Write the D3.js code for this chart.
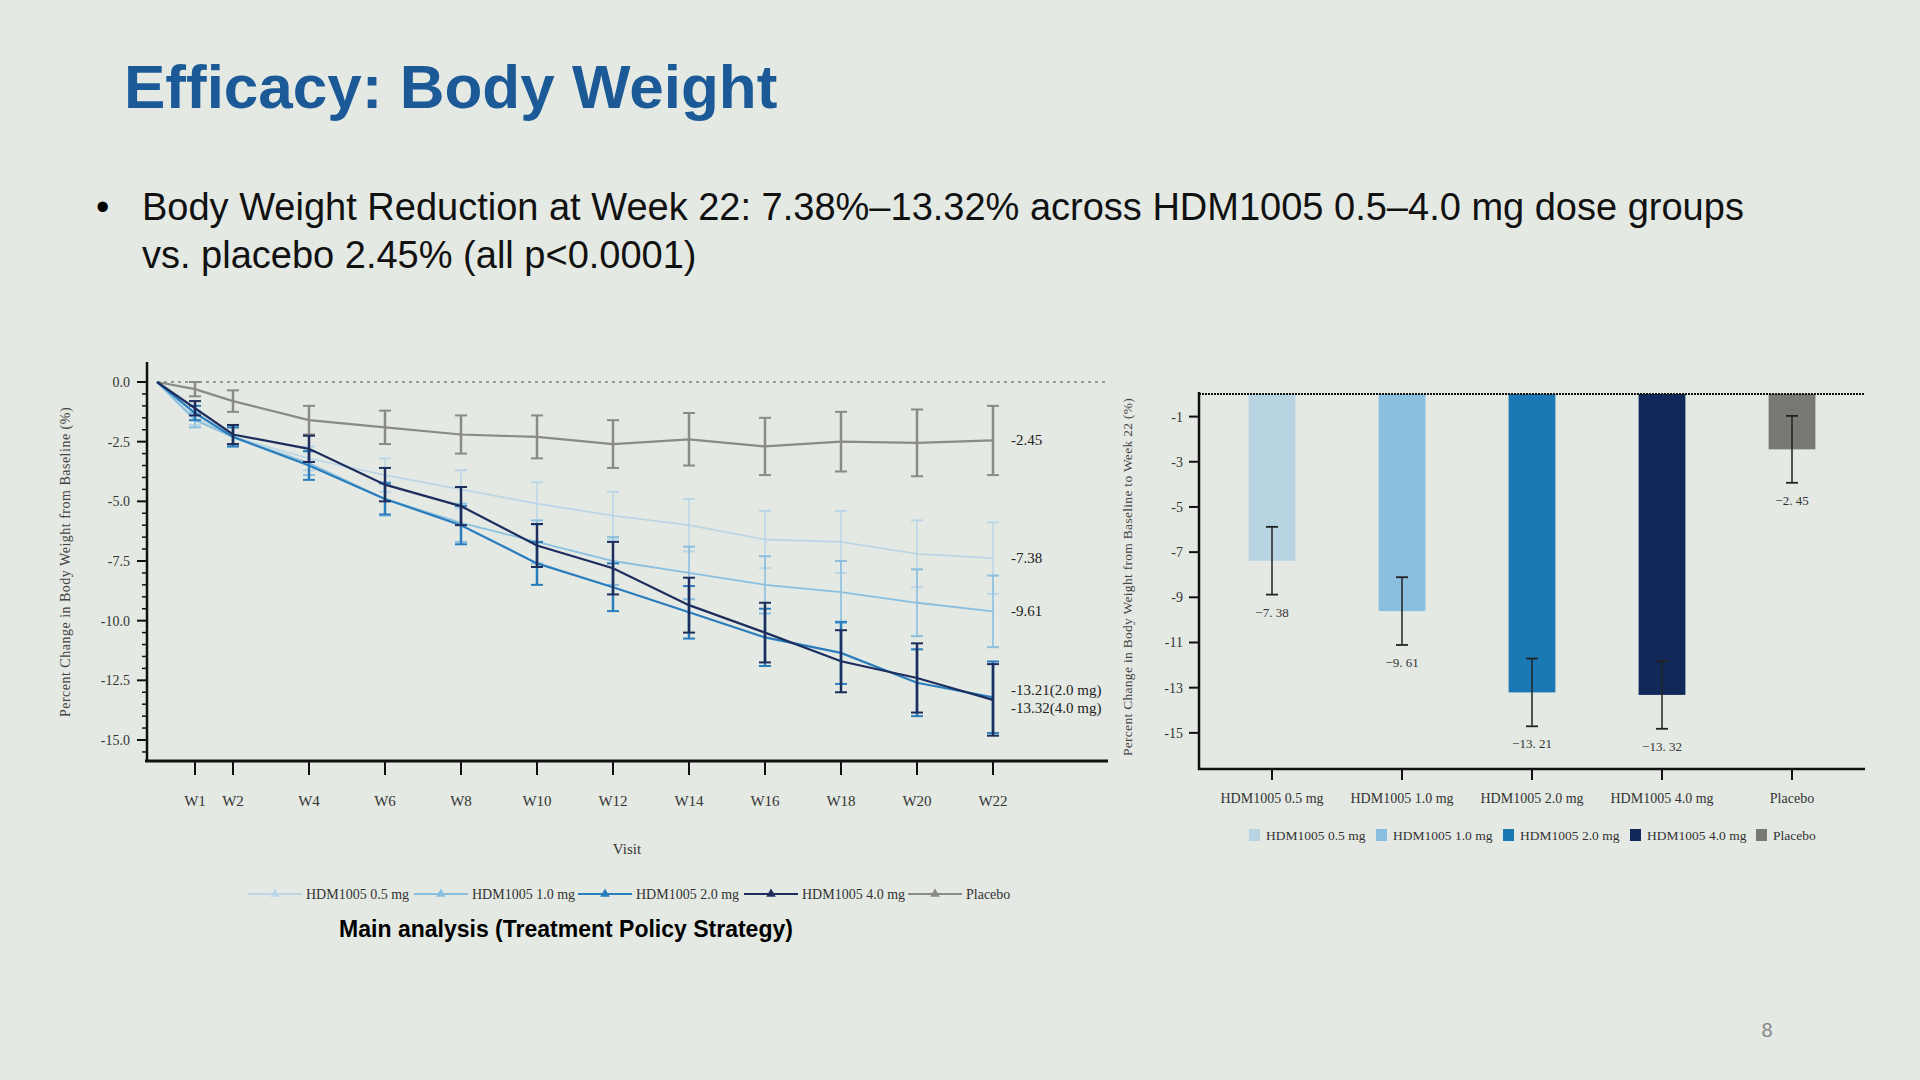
<!DOCTYPE html>
<html><head><meta charset="utf-8">
<script src="https://cdn.jsdelivr.net/npm/d3@7"></script>
<style>body{margin:0;background:#e4e9e3;}svg{display:block;}</style>
</head><body>
<svg id="s" width="1920" height="1080"></svg>
<script>
const weeks = [0,1,2,4,6,8,10,12,14,16,18,20,22];
const weekLabels = ["W1","W2","W4","W6","W8","W10","W12","W14","W16","W18","W20","W22"];
const seriesNames = ["HDM1005 0.5 mg","HDM1005 1.0 mg","HDM1005 2.0 mg","HDM1005 4.0 mg","Placebo"];
const seriesColors = ["#bcd6e6","#8bbfdf","#2a7dbc","#1c2d5e","#8a8a86"];
const mean05 = [0,-1.5,-2.3,-3.2,-3.9,-4.5,-5.1,-5.6,-6.0,-6.6,-6.7,-7.2,-7.38];
const mean10 = [0,-1.6,-2.3,-3.4,-4.9,-5.9,-6.7,-7.5,-8.0,-8.5,-8.8,-9.25,-9.61];
const mean20 = [0,-1.3,-2.3,-3.5,-4.9,-6.0,-7.6,-8.6,-9.65,-10.7,-11.35,-12.6,-13.21];
const mean40 = [0,-1.1,-2.2,-2.8,-4.3,-5.2,-6.85,-7.8,-9.35,-10.5,-11.7,-12.4,-13.32];
const meanPl = [0,-0.3,-0.8,-1.6,-1.9,-2.2,-2.3,-2.6,-2.4,-2.7,-2.5,-2.55,-2.45];
const err05 = [0,0.3,0.4,0.5,0.7,0.8,0.9,1.0,1.1,1.2,1.3,1.4,1.5];
const err10 = [0,0.3,0.4,0.5,0.7,0.8,0.9,1.0,1.1,1.2,1.3,1.4,1.5];
const err20 = [0,0.3,0.4,0.6,0.65,0.8,0.9,1.0,1.1,1.2,1.3,1.4,1.5];
const err40 = [0,0.3,0.4,0.55,0.7,0.8,0.9,1.1,1.15,1.25,1.3,1.45,1.5];
const errPl = [0,0.3,0.45,0.6,0.7,0.8,0.9,1.0,1.1,1.2,1.25,1.4,1.45];
const endLabels = ["-7.38","-9.61","-13.21(2.0 mg)","-13.32(4.0 mg)","-2.45"];
const lineYTicks = [0,-2.5,-5,-7.5,-10,-12.5,-15];
const barValues = [-7.38,-9.61,-13.21,-13.32,-2.45];
const barErrors = [1.5,1.5,1.5,1.5,1.48];
const barLabels = ["−7. 38","−9. 61","−13. 21","−13. 32","−2. 45"];
const barYTicks = [-1,-3,-5,-7,-9,-11,-13,-15];

const svg = d3.select("#s");
const serif = "'Liberation Serif','DejaVu Serif',serif";
const sans = "'Liberation Sans',Arial,sans-serif";

svg.append("text").attr("x",124).attr("y",108).attr("font-family",sans).attr("font-weight","bold")
  .attr("font-size",62).attr("fill","#1b5a97").text("Efficacy: Body Weight");
svg.append("text").attr("x",96).attr("y",220).attr("font-family",sans).attr("font-size",38).text("•");
svg.append("text").attr("x",142).attr("y",220).attr("font-family",sans).attr("font-size",38).attr("fill","#111")
  .text("Body Weight Reduction at Week 22: 7.38%–13.32% across HDM1005 0.5–4.0 mg dose groups");
svg.append("text").attr("x",142).attr("y",268).attr("font-family",sans).attr("font-size",38).attr("fill","#111")
  .text("vs. placebo 2.45% (all p<0.0001)");
svg.append("text").attr("x",1767).attr("y",1037).attr("font-family",sans).attr("font-size",20).attr("fill","#888").attr("text-anchor","middle").text("8");

// ---- line chart
const x = d3.scaleLinear().domain([0,22]).range([157,993]);
const y = d3.scaleLinear().domain([0,-15]).range([382,740]);
const g = svg.append("g");
g.append("line").attr("x1",x(0)).attr("x2",1108).attr("y1",y(0)).attr("y2",y(0)).attr("stroke","#999").attr("stroke-width",2).attr("stroke-dasharray","3,4");
// y axis
g.append("line").attr("x1",147).attr("x2",147).attr("y1",362).attr("y2",762).attr("stroke","#111").attr("stroke-width",2.5);
g.append("line").attr("x1",145).attr("x2",1108).attr("y1",761).attr("y2",761).attr("stroke","#111").attr("stroke-width",3);
d3.range(0,-15.51,-0.5).forEach(v=>{
  const major = lineYTicks.includes(v);
  g.append("line").attr("x1",147).attr("x2",major?137:142).attr("y1",y(v)).attr("y2",y(v)).attr("stroke","#111").attr("stroke-width",major?2:1.5);
});
lineYTicks.forEach(v=>g.append("text").attr("x",130).attr("y",y(v)+5).attr("text-anchor","end")
  .attr("font-family",serif).attr("font-size",14).attr("fill","#333").text(v.toFixed(1)));
weeks.slice(1).forEach((w,i)=>{
  g.append("line").attr("x1",x(w)).attr("x2",x(w)).attr("y1",761).attr("y2",775).attr("stroke","#111").attr("stroke-width",2);
  g.append("text").attr("x",x(w)).attr("y",806).attr("text-anchor","middle").attr("font-family",serif).attr("font-size",15).attr("fill","#333").text(weekLabels[i]);
});
g.append("text").attr("x",627).attr("y",854).attr("text-anchor","middle").attr("font-family",serif).attr("font-size",15).attr("fill","#333").text("Visit");
g.append("text").attr("transform","translate(70,562) rotate(-90)").attr("text-anchor","middle").attr("font-family",serif).attr("font-size",14).attr("letter-spacing",0.5).attr("fill","#444").text("Percent Change in Body Weight from Baseline (%)");

const means=[mean05,mean10,mean20,mean40,meanPl], errs=[err05,err10,err20,err40,errPl];
const line=d3.line().x((d,i)=>x(weeks[i])).y(d=>y(d));
[4,0,1,2,3].forEach(s=>{
  const c=seriesColors[s], sw = s>=2?2.2:1.8;
  means[s].forEach((m,i)=>{ if(i===0) return; const e=errs[s][i];
    g.append("line").attr("x1",x(weeks[i])).attr("x2",x(weeks[i])).attr("y1",y(m-e)).attr("y2",y(m+e)).attr("stroke",c).attr("stroke-width",s>=2?2.5:1.6);
    [m-e,m+e].forEach(v=>g.append("line").attr("x1",x(weeks[i])-6).attr("x2",x(weeks[i])+6).attr("y1",y(v)).attr("y2",y(v)).attr("stroke",c).attr("stroke-width",2));
  });
  g.append("path").attr("d",line(means[s])).attr("fill","none").attr("stroke",c).attr("stroke-width",sw);
});
const endY=[-7.38,-9.61,-12.9,-13.65,-2.45];
endLabels.forEach((t,i)=>g.append("text").attr("x",1011).attr("y",y(endY[i])+5).attr("font-family",serif).attr("font-size",15).attr("fill","#222").text(t));
// legend
const lx=[248,414,578,744,908];
seriesNames.forEach((n,i)=>{
  const lg=g.append("g").attr("transform",`translate(${lx[i]},894)`);
  lg.append("line").attr("x1",0).attr("x2",54).attr("stroke",seriesColors[i]).attr("stroke-width",2);
  lg.append("path").attr("d",d3.symbol(d3.symbolTriangle,40)()).attr("transform","translate(27,0)").attr("fill",seriesColors[i]);
  lg.append("text").attr("x",58).attr("y",5).attr("font-family",serif).attr("font-size",14).attr("fill","#333").text(n);
});
svg.append("text").attr("x",566).attr("y",937).attr("text-anchor","middle").attr("font-family",sans).attr("font-weight","bold").attr("font-size",23).attr("fill","#000").text("Main analysis (Treatment Policy Strategy)");

// ---- bar chart
const xb=d3.scaleBand().domain(seriesNames).range([1207,1857]).paddingInner(0.64).paddingOuter(0.32);
const yb=d3.scaleLinear().domain([0,-16.6]).range([394,769]);
const b=svg.append("g");
seriesNames.forEach((n,i)=>{
  b.append("rect").attr("x",xb(n)).attr("width",xb.bandwidth()).attr("y",yb(0)).attr("height",yb(barValues[i])-yb(0)).attr("fill",seriesColors[i]===seriesColors[0]?"#b8d4e3":["#b8d4e3","#8bbfe0","#1a78b5","#10285a","#787875"][i]);
});
["#b8d4e3","#8bbfe0","#1a78b5","#10285a","#787875"].forEach((c,i)=>{});
b.append("line").attr("x1",1199).attr("x2",1865).attr("y1",394).attr("y2",394).attr("stroke","#111").attr("stroke-width",2).attr("stroke-dasharray","2,1");
b.append("line").attr("x1",1199).attr("x2",1199).attr("y1",392).attr("y2",770).attr("stroke","#111").attr("stroke-width",2.5);
b.append("line").attr("x1",1198).attr("x2",1865).attr("y1",769).attr("y2",769).attr("stroke","#111").attr("stroke-width",2.5);
barYTicks.forEach(v=>{
  b.append("line").attr("x1",1199).attr("x2",1189).attr("y1",yb(v)).attr("y2",yb(v)).attr("stroke","#111").attr("stroke-width",2);
  b.append("text").attr("x",1183).attr("y",yb(v)+5).attr("text-anchor","end").attr("font-family",serif).attr("font-size",14).attr("fill","#333").text(v);
});
seriesNames.forEach((n,i)=>{
  const cx=xb(n)+xb.bandwidth()/2, v=barValues[i], e=barErrors[i];
  b.append("line").attr("x1",cx).attr("x2",cx).attr("y1",yb(v+e)).attr("y2",yb(v-e)).attr("stroke","#222").attr("stroke-width",1.5);
  [v+e,v-e].forEach(t=>b.append("line").attr("x1",cx-6).attr("x2",cx+6).attr("y1",yb(t)).attr("y2",yb(t)).attr("stroke","#222").attr("stroke-width",1.8));
  b.append("text").attr("x",cx).attr("y",yb(v-e)+22).attr("text-anchor","middle").attr("font-family",serif).attr("font-size",13).attr("fill","#333").text(barLabels[i]);
  b.append("line").attr("x1",cx).attr("x2",cx).attr("y1",769).attr("y2",780).attr("stroke","#111").attr("stroke-width",2);
  b.append("text").attr("x",cx).attr("y",803).attr("text-anchor","middle").attr("font-family",serif).attr("font-size",14).attr("fill","#333").text(n);
});
b.append("text").attr("transform","translate(1132,577) rotate(-90)").attr("text-anchor","middle").attr("font-family",serif).attr("font-size",13.5).attr("letter-spacing",0.3).attr("fill","#444").text("Percent Change in Body Weight from Baseline to Week 22 (%)");
const bl=[1249,1376,1503,1630,1756];
seriesNames.forEach((n,i)=>{
  b.append("rect").attr("x",bl[i]).attr("y",829).attr("width",11).attr("height",12).attr("fill",["#b8d4e3","#8bbfe0","#1a78b5","#10285a","#787875"][i]);
  b.append("text").attr("x",bl[i]+17).attr("y",840).attr("font-family",serif).attr("font-size",13.5).attr("fill","#333").text(n);
});
</script>
</body></html>
